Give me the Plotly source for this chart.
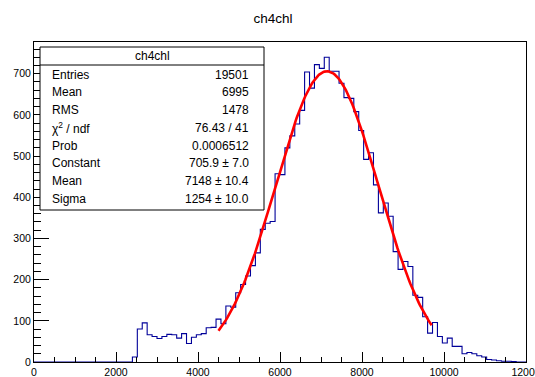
import numpy as np
import plotly.graph_objects as go

# ---- histogram definition -------------------------------------------------
hist_title = "ch4chl"
x_min, x_max, n_bins = 0.0, 12000.0, 100

# bin contents (100 bins of width 120)
counts = [0] * 20 + [
    12, 80, 95, 66, 62, 57, 62, 67, 66, 58,          # 20-29
    69, 45, 60, 66, 69, 83, 84, 104, 93, 136,        # 30-39
    133, 168, 188, 209, 234, 265, 322, 337, 341, 457,  # 40-49
    455, 520, 549, 578, 611, 704, 665, 722, 713, 740,  # 50-59
    706, 706, 677, 642, 640, 608, 562, 492, 508, 430,  # 60-69
    362, 386, 354, 268, 225, 244, 232, 162, 157, 110,  # 70-79
    70, 96, 62, 46, 58, 38, 38, 20, 23, 20,          # 80-89
    15, 12, 6, 5, 3, 2, 2, 1, 0, 0,                  # 90-99
]

# gaussian fit result
fit_const, fit_mean, fit_sigma = 705.9, 7148.0, 1254.0
fit_lo, fit_hi = 4500.0, 9700.0

# statistics box
stat_labels = ["Entries", "Mean", "RMS", "χ<sup>2</sup> / ndf", "Prob",
               "Constant", "Mean", "Sigma"]
stat_values = ["19501", "6995", "1478", "76.43 / 41", "0.0006512",
               "705.9 ± 7.0", "7148 ± 10.4", "1254 ± 10.0"]

# ---- geometry -------------------------------------------------------------
W, H = 535, 377
L, R, T, B = 34, 526, 42, 362          # frame edges in pixels
FONT = "Liberation Sans, Arial, Helvetica, sans-serif"


def px(x):
    return (x - L) / (R - L)


def py(y):
    return (B - y) / (B - T)


edges = np.linspace(x_min, x_max, n_bins + 1)
step_y = list(counts) + [counts[-1]]

fx = np.linspace(fit_lo, fit_hi, 200)
fy = fit_const * np.exp(-0.5 * ((fx - fit_mean) / fit_sigma) ** 2)

y_top = 1.05 * max(counts)

fig = go.Figure()
fig.add_trace(go.Scatter(
    x=edges, y=step_y, mode="lines", line_shape="hv",
    line=dict(color="#000099", width=1.1), hoverinfo="skip",
))
fig.add_trace(go.Scatter(
    x=fx, y=fy, mode="lines",
    line=dict(color="#ff0000", width=2.6), hoverinfo="skip",
))

axis_common = dict(
    showgrid=False, zeroline=False, showline=True, linecolor="black",
    linewidth=1, mirror=True, ticks="inside", tickcolor="black", tickwidth=1,
    automargin=False,
    tickfont=dict(family=FONT, size=10.5, color="black"),
)

fig.update_xaxes(
    range=[x_min, x_max], tick0=0, dtick=2000, tickformat="d", ticklen=9.6,
    ticklabeloverflow="allow",
    minor=dict(dtick=500, ticks="inside", ticklen=4.8, tickcolor="black",
               showgrid=False),
    **axis_common,
)
fig.update_yaxes(
    range=[0, y_top], tick0=0, dtick=100, tickformat="d", ticklen=14.5,
    minor=dict(dtick=20, ticks="inside", ticklen=7.3, tickcolor="black",
               showgrid=False),
    **axis_common,
)

# statistics box
box_l, box_r, box_t, box_b = 40, 264, 47, 210
head_sep = 65
shapes = [
    dict(type="rect", xref="paper", yref="paper",
         x0=px(box_l), x1=px(box_r), y0=py(box_b), y1=py(box_t),
         line=dict(color="black", width=1), fillcolor="white"),
    dict(type="line", xref="paper", yref="paper",
         x0=px(box_l), x1=px(box_r), y0=py(head_sep), y1=py(head_sep),
         line=dict(color="black", width=1)),
]

annotations = [dict(
    text=hist_title, xref="paper", yref="paper",
    x=px((box_l + box_r) / 2), y=py(56.5), xanchor="center", yanchor="middle",
    showarrow=False, font=dict(family=FONT, size=12, color="black"),
)]
row0, row_step = 74.5, 17.75
for i, (lab, val) in enumerate(zip(stat_labels, stat_values)):
    yy = py(row0 + i * row_step)
    annotations.append(dict(
        text=lab, xref="paper", yref="paper", x=px(50), y=yy,
        xanchor="left", yanchor="middle", showarrow=False,
        font=dict(family=FONT, size=12, color="black"),
    ))
    annotations.append(dict(
        text=val, xref="paper", yref="paper", x=px(251), y=yy,
        xanchor="right", yanchor="middle", showarrow=False,
        font=dict(family=FONT, size=12, color="black"),
    ))

fig.update_layout(
    width=W, height=H,
    margin=dict(l=L, r=W - R, t=T, b=H - B, pad=0, autoexpand=False),
    paper_bgcolor="white", plot_bgcolor="white",
    showlegend=False,
    title=dict(text=hist_title, x=273 / W, xanchor="center",
               y=1 - 18 / H, yanchor="middle",
               font=dict(family=FONT, size=13.5, color="black")),
    shapes=shapes, annotations=annotations,
)

fig.write_html("out.html")
